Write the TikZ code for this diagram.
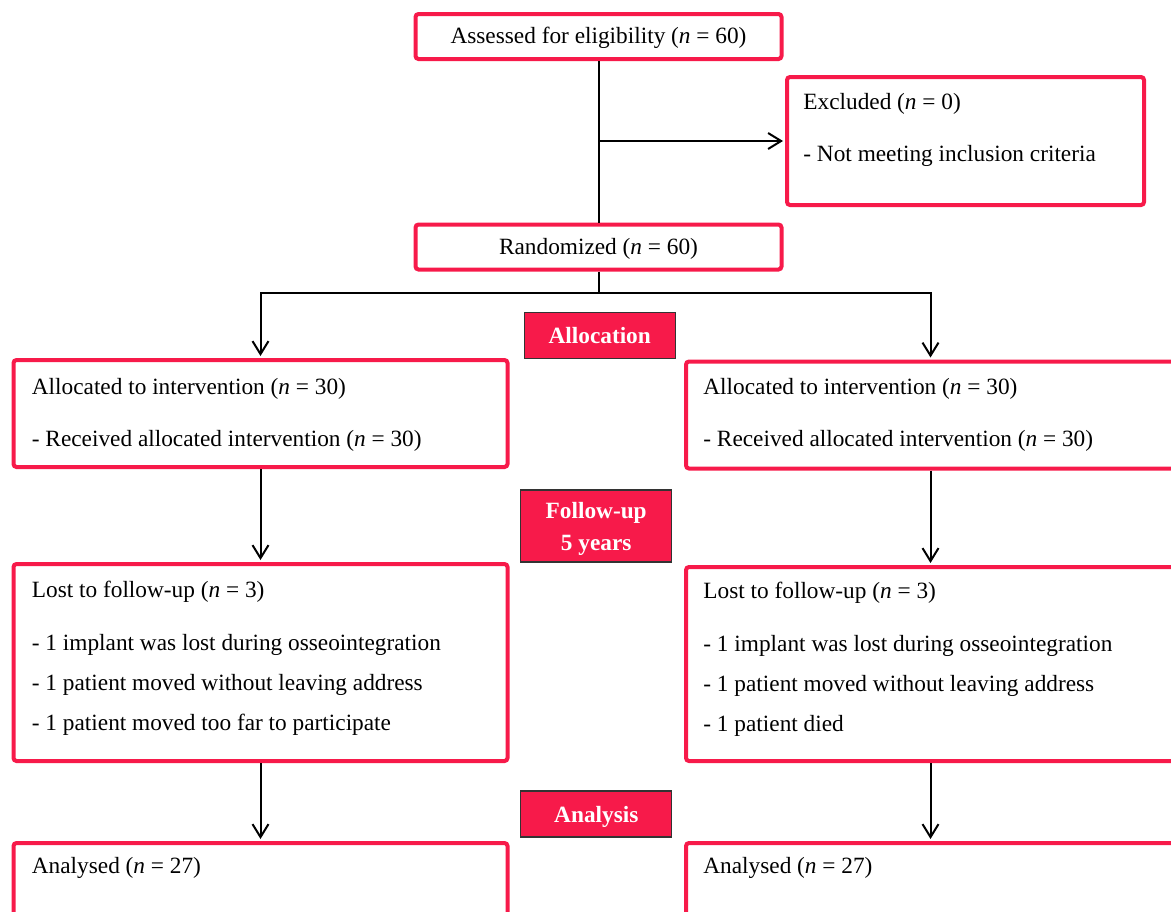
\documentclass[tikz,border=0pt]{standalone}
\usepackage{fontspec}
\setmainfont{Liberation Serif}
\usetikzlibrary{arrows.meta, positioning}
\definecolor{crimson}{RGB}{247,26,74}

\begin{document}
\begin{tikzpicture}[
      x=0.5pt, y=-0.5pt,
      every node/.style={font=\fontsize{11.65}{20}\selectfont},
      box/.style={draw=crimson, line width=2pt, rounded corners=1.5pt, inner sep=0pt},
      title/.style={box, text height=0.73em, text depth=0pt},
      stagetxt/.style={text=white, font=\fontsize{11.65}{16}\selectfont\bfseries,
        align=center, inner sep=0pt},
      stage/.style={stagetxt, draw=black!80, line width=0.6pt, fill=crimson,
        minimum width=75.5pt, text depth=0pt},
      txt/.style={inner sep=0pt, align=left},
      edge/.style={-{Straight Barb[length=6.5pt, width=8pt]}, line width=1pt, shorten >=1pt},
      link/.style={line width=1pt}
    ]
    \useasboundingbox (0,0) rectangle (1171,911);
    \clip (0,0) rectangle (1171,911);

    % enrolment
    \node[title, minimum width=183pt, minimum height=22.5pt] (assess) at (598.5,36.5)
      {Assessed for eligibility (\textit{n} = 60)};
    \node[box, minimum width=178.5pt, minimum height=64pt] (excl) at (965.5,141) {};
    \node[txt, below right=9.2pt and 9pt of excl.north west] (exclTxt)
      {Excluded (\textit{n} = 0)\\[6pt]- Not meeting inclusion criteria};
    \node[title, minimum width=183pt, minimum height=22.5pt] (random) at (598.5,247)
      {Randomized (\textit{n} = 60)};
    \coordinate (split) at (598.5,293.3);

    % stage labels
    \node[stage, minimum height=23pt] (allocation) at (599.7,335.3) {Allocation};
    \node[stage, minimum height=36pt] (followup) at (596.2,526) {};
    \node[stagetxt] (followupTxt) at ([yshift=-1.6pt]followup.center) {Follow-up\\5 years};
    \node[stage, minimum height=23pt] (analysis) at (596.3,814) {Analysis};

    % left arm
    \node[box, minimum width=247pt, minimum height=53.5pt] (allocL) at (260.5,413.5) {};
    \node[txt, below right=10pt and 10pt of allocL.north west] (allocLTxt)
      {Allocated to intervention (\textit{n} = 30)\\[6pt]- Received allocated intervention (\textit{n} = 30)};
    \node[box, minimum width=247pt, minimum height=98.5pt] (lostL) at (260.5,662.5) {};
    \node[txt, below right=9.5pt and 10pt of lostL.north west] (lostLTxt)
      {Lost to follow-up (\textit{n} = 3)\\[6.3pt]- 1 implant was lost during osseointegration\\
       - 1 patient moved without leaving address\\- 1 patient moved too far to participate};
    \node[box, minimum width=247pt, minimum height=57pt] (analL) at (260.5,900) {};
    \node[txt, below right=8pt and 10pt of analL.north west] (analLTxt) {Analysed (\textit{n} = 27)};

    % right arm
    \node[box, minimum width=244.5pt, minimum height=53.5pt] (allocR) at (930.5,415) {};
    \node[txt, below right=9.25pt and 9.5pt of allocR.north west] (allocRTxt)
      {Allocated to intervention (\textit{n} = 30)\\[6pt]- Received allocated intervention (\textit{n} = 30)};
    \node[box, minimum width=244.5pt, minimum height=97pt] (lostR) at (930.5,664) {};
    \node[txt, below right=8.5pt and 9.5pt of lostR.north west] (lostRTxt)
      {Lost to follow-up (\textit{n} = 3)\\[6.3pt]- 1 implant was lost during osseointegration\\
       - 1 patient moved without leaving address\\- 1 patient died};
    \node[box, minimum width=244.5pt, minimum height=57pt] (analR) at (930.5,900) {};
    \node[txt, below right=8pt and 9.5pt of analR.north west] (analRTxt) {Analysed (\textit{n} = 27)};

    % connectors
    \draw[link] (assess) -- (random);
    \draw[edge] (assess.south |- excl.west) -- (excl);
    \draw[link] (random) -- (split);
    \draw[edge] (split) -| (allocL);
    \draw[edge] (split) -| (allocR);
    \draw[edge] (allocL) -- (lostL);
    \draw[edge] (allocR) -- (lostR);
    \draw[edge] (lostL) -- (analL);
    \draw[edge] (lostR) -- (analR);
\end{tikzpicture}
\end{document}
